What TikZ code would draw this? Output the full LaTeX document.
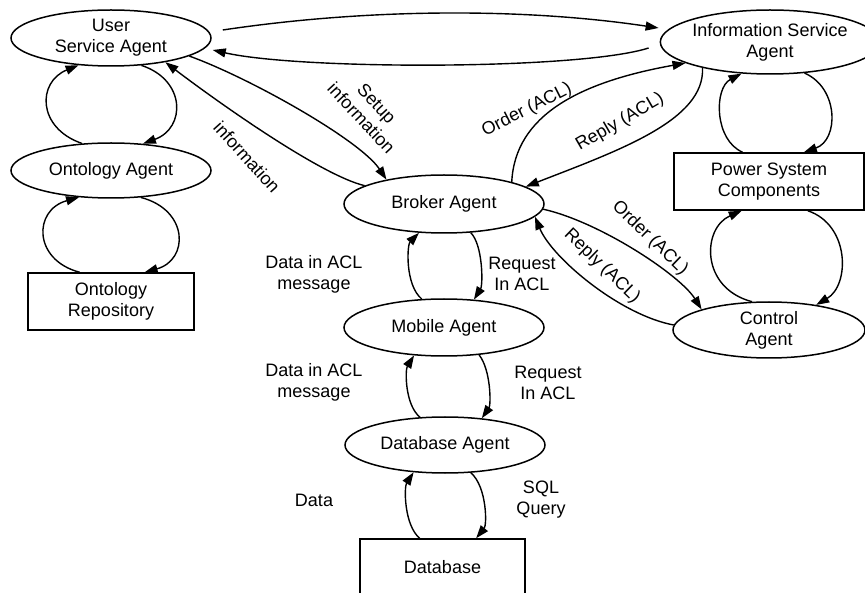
\documentclass[tikz,border=0pt]{standalone}
\usepackage{fontspec}
\setmainfont{Liberation Sans}
\usetikzlibrary{arrows.meta,calc,shapes.geometric}

\begin{document}
\begin{tikzpicture}[x=1pt,y=-1pt,
  font=\fontsize{18}{21}\selectfont,
  agent/.style={ellipse,draw,line width=1.5pt,inner sep=0pt,minimum width=200pt,minimum height=56pt,align=center},
  store/.style={rectangle,draw,line width=1.5pt,inner sep=0pt,minimum width=166pt,minimum height=57pt,align=center},
  flow/.style={line width=1.4pt,-{Triangle[length=13pt,width=9pt]}},
  lbl/.style={align=center,inner sep=0pt}]

\clip (0,0) rectangle (865,593);

% agents and stores
\node[agent] (usa) at (111,38) {User\\Service Agent};
\node[agent,minimum width=192pt,minimum height=64pt] (isa) at (770,42) {Information Service\\Agent};
\node[agent,minimum height=55pt] (ont) at (111,170.5) {Ontology Agent};
\node[store] (repo) at (111,301.5) {Ontology\\Repository};
\node[agent,minimum height=58pt] (broker) at (444,204) {Broker Agent};
\node[agent,minimum height=57pt] (mobile) at (444,327.5) {Mobile Agent};
\node[agent] (dba) at (445,445) {Database Agent};
\node[store,minimum width=165pt] (db) at (442.5,567.5) {Database};
\node[store,minimum width=190pt] (psc) at (769,181.5) {Power System\\Components};
\node[agent,minimum width=192pt] (ctrl) at (769,330) {Control\\Agent};

% user service agent <-> information service agent
\draw[flow] ($(usa.east)+(11,-8)$) .. controls (370,8) and (525,8) .. ($(isa.west)+(-1,-14)$);
\draw[flow] ($(isa.west)+(-11,6)$) .. controls (580,70) and (300,70) .. ($(usa.east)+(1,12)$);

% user service agent <-> broker
\draw[flow] (usa.-13) .. controls (250,78) and (360,140) .. (broker.157);
\draw[flow] (broker.167) .. controls (320,175) and (215,100) .. (usa.-24);
\node[lbl,rotate=-47] (lsetup) at (369,111) {Setup\\information};
\node[lbl,rotate=-48] (linfo) at (247,157) {information};

% user service agent <-> ontology agent <-> repository
\draw[flow] (ont.137.8) .. controls (37,128) and (37,82) .. (usa.220.6);
\draw[flow] (usa.-42.7) .. controls (186,80) and (186,128) .. (ont.40.1);
\draw[flow] (repo.137.4) .. controls (33,260) and (33,210) .. (ont.220.1);
\draw[flow] (ont.-42.2) .. controls (189,210) and (189,260) .. (repo.41.7);

% broker <-> information service agent
\draw[flow] (broker.18) .. controls (515,115) and (580,82) .. (isa.194);
\draw[flow] (isa.201) .. controls (705,120) and (620,150) .. (broker.12);
\node[lbl,rotate=27] (lord1) at (527,110) {Order (ACL)};
\node[lbl,rotate=30] (lrep1) at (620,122) {Reply (ACL)};

% information service agent <-> power system <-> control agent
\draw[flow] (psc.132.4) .. controls (714,140) and (714,88) .. (isa.228.7);
\draw[flow] (isa.-42.3) .. controls (839,88) and (839,140) .. (psc.40);
\draw[flow] (ctrl.121.6) .. controls (700,288) and (702,228) .. (psc.227.5);
\draw[flow] (psc.-37.1) .. controls (850,225) and (850,285) .. (ctrl.28.1);

% broker <-> control agent
\draw[flow] (broker.-3) .. controls (600,222) and (680,275) .. (ctrl.163.8);
\draw[flow] (ctrl.177) .. controls (620,315) and (552,258) .. (broker.-8.7);
\node[lbl,rotate=-44] (lord2) at (650,238) {Order (ACL)};
\node[lbl,rotate=-44] (lrep2) at (602,266) {Reply (ACL)};

% broker <-> mobile <-> database agent <-> database
\draw[flow] (mobile.128.4) .. controls (405,285) and (407,245) .. (broker.229.6);
\draw[flow] (broker.-47.1) .. controls (483,245) and (483,285) .. (mobile.43.3);
\draw[flow] (dba.132.7) .. controls (405,405) and (405,370) .. (mobile.223.3);
\draw[flow] (mobile.-38.2) .. controls (491,370) and (491,405) .. (dba.36.8);
\draw[flow] (db.128.3) .. controls (404,525) and (404,487) .. (dba.221.7);
\draw[flow] (dba.-47.3) .. controls (487,487) and (487,525) .. (db.41.2);

\node[lbl] (dm1) at (314,274) {Data in ACL\\message};
\node[lbl] (rq1) at (522,274) {Request\\In ACL};
\node[lbl] (dm2) at (314,382) {Data in ACL\\message};
\node[lbl] (rq2) at (548,383) {Request\\In ACL};
\node[lbl] (ld) at (314,500) {Data};
\node[lbl] (sql) at (541,500) {SQL\\Query};

\end{tikzpicture}
\end{document}
